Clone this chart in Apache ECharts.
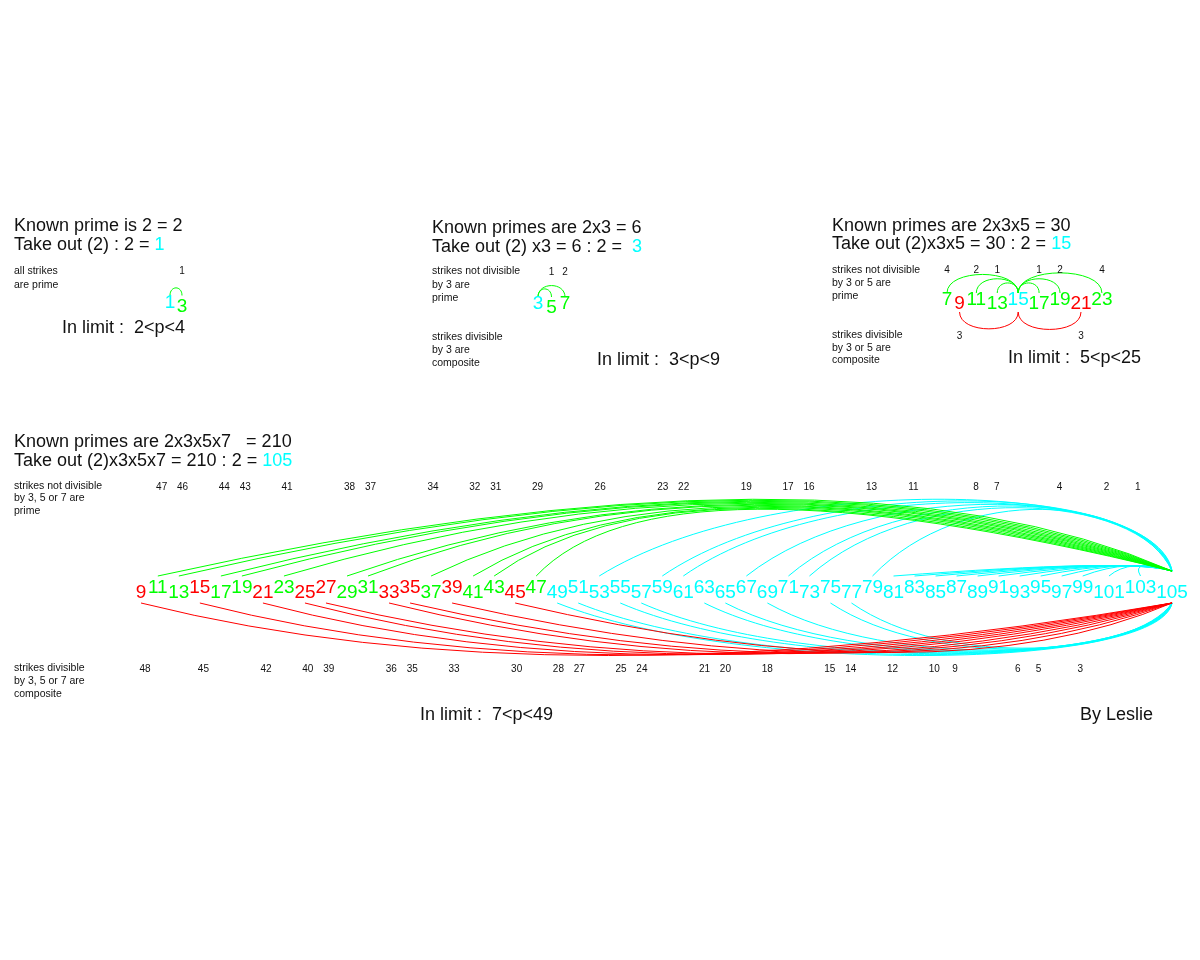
<!DOCTYPE html>
<html><head><meta charset="utf-8">
<script src="https://cdn.jsdelivr.net/npm/echarts@6/dist/echarts.min.js"></script>
<style>html,body{margin:0;padding:0;background:#fff}#c{width:1200px;height:960px}</style>
</head><body><div id="c"></div>
<script>
const FF = '"Liberation Sans", Arial, Helvetica, sans-serif';
const GREEN = '#00ff00', RED = '#ff0000', CYAN = '#00ffff', INK = '#111111';

// ---------- Diagram 1 : 2 ----------
const d1Numbers = [1, 3];
const d1Center = 1;
const d1UpperArcs = [3];
const d1LowerArcs = [];
const d1TopStrikes = [[3, 1]];          // [number under the label, strike label]
const d1BottomStrikes = [];

// ---------- Diagram 2 : 2x3 ----------
const d2Numbers = [3, 5, 7];
const d2Center = 3;
const d2UpperArcs = [5, 7];
const d2LowerArcs = [];
const d2TopStrikes = [[5, 1], [7, 2]];
const d2BottomStrikes = [];

// ---------- Diagram 3 : 2x3x5 ----------
const d3Numbers = [7, 9, 11, 13, 15, 17, 19, 21, 23];
const d3Center = 15;
const d3UpperArcs = [7, 11, 13, 17, 19, 23];
const d3LowerArcs = [9, 21];
const d3TopStrikes = [[7, 4], [11, 2], [13, 1], [17, 1], [19, 2], [23, 4]];
const d3BottomStrikes = [[9, 3], [21, 3]];

// ---------- Diagram 4 : 2x3x5x7 ----------
const bigNumbers = [9, 11, 13, 15, 17, 19, 21, 23, 25, 27, 29, 31, 33, 35, 37, 39, 41, 43, 45, 47,
  49, 51, 53, 55, 57, 59, 61, 63, 65, 67, 69, 71, 73, 75, 77, 79, 81, 83, 85, 87, 89, 91, 93, 95,
  97, 99, 101, 103, 105];
const bigCenter = 105;
const bigGreenUpper = [11, 13, 17, 19, 23, 29, 31, 37, 41, 43, 47];
const bigRedLower = [9, 15, 21, 25, 27, 33, 35, 39, 45];
const bigCyanUpper = [53, 59, 61, 67, 71, 73, 79];
const bigCyanLower = [49, 51, 55, 57, 63, 65, 69, 75, 77];
const bigCyanShort = [81, 83, 85, 87, 89, 91, 93, 95, 97, 99, 101, 103];
const bigTopStrikes = [47, 46, 44, 43, 41, 38, 37, 34, 32, 31, 29, 26, 23, 22, 19, 17, 16, 13, 11, 8, 7, 4, 2, 1];
const bigBottomStrikes = [48, 45, 42, 40, 39, 36, 35, 33, 30, 28, 27, 25, 24, 21, 20, 18, 15, 14, 12, 10, 9, 6, 5, 3];

// ---------- layout helpers ----------
function unitWidth(n) { const s = String(n); return s.length === 1 ? 1.2 : s.length; }
function layoutUnits(nums) {
  const pos = {}; let acc = 0;
  nums.forEach(n => { const w = unitWidth(n); pos[n] = acc + w / 2; acc += w; });
  return { pos, total: acc };
}

const small = [
  { numbers: d1Numbers, center: d1Center, upper: d1UpperArcs, lower: d1LowerArcs, top: d1TopStrikes, bottom: d1BottomStrikes,
    left: 164, unitPx: 10, rowY: 304.5, topY: 33.5, botY: -34 },
  { numbers: d2Numbers, center: d2Center, upper: d2UpperArcs, lower: d2LowerArcs, top: d2TopStrikes, bottom: d2BottomStrikes,
    left: 531.25, unitPx: 11.25, rowY: 306, topY: 34, botY: -34 },
  { numbers: d3Numbers, center: d3Center, upper: d3UpperArcs, lower: d3LowerArcs, top: d3TopStrikes, bottom: d3BottomStrikes,
    left: 940.7, unitPx: 10.47, rowY: 302, topY: 32, botY: -34 }
];

const grids = [], xAxes = [], yAxes = [], series = [];
function addGrid(left, width, rowY, total) {
  const i = grids.length;
  grids.push({ left: left, width: width, top: rowY - 200, height: 400, containLabel: false });
  xAxes.push({ type: 'value', gridIndex: i, min: 0, max: total, show: false });
  yAxes.push({ type: 'value', gridIndex: i, min: -200, max: 200, show: false });
  return i;
}

function textEl(x, y, text, color, size) {
  return { type: 'text', x: x, y: y, silent: true,
    style: { text: text, fill: color, font: size + 'px ' + FF, align: 'center', verticalAlign: 'middle',
      textAlign: 'center', textVerticalAlign: 'middle' } };
}

// small diagrams
small.forEach(d => {
  const L = layoutUnits(d.numbers);
  const gi = addGrid(d.left, L.total * d.unitPx, d.rowY, L.total);
  const colorOf = n => n === d.center ? CYAN : (d.upper.includes(n) ? GREEN : (d.lower.includes(n) ? RED : CYAN));
  const arcData = d.upper.map(n => [L.pos[n], L.pos[d.center], 1])
    .concat(d.lower.map(n => [L.pos[n], L.pos[d.center], -1]));
  series.push({ type: 'custom', xAxisIndex: gi, yAxisIndex: gi, clip: false, silent: true, data: arcData,
    renderItem: (params, api) => {
      const side = api.value(2);
      const base = side > 0 ? 9 : -10;
      const p0 = api.coord([api.value(0), base]);
      const p2 = api.coord([api.value(1), base]);
      const h = 2.2 * Math.sqrt(Math.abs(p2[0] - p0[0])) * (4 / 3) * (side > 0 ? -1 : 1);
      return { type: 'bezierCurve',
        shape: { x1: p0[0], y1: p0[1], x2: p2[0], y2: p2[1], cpx1: p0[0], cpy1: p0[1] + h, cpx2: p2[0], cpy2: p2[1] + h },
        style: { stroke: side > 0 ? GREEN : RED, fill: null, lineWidth: 1 } };
    } });
  series.push({ type: 'custom', xAxisIndex: gi, yAxisIndex: gi, clip: false, silent: true,
    data: d.numbers.map((n, i) => [L.pos[n], 0, n, i]),
    renderItem: (params, api) => {
      const p = api.coord([api.value(0), 0]);
      const idx = api.value(3);
      const n = api.value(2);
      return textEl(p[0], p[1] + (idx % 2 ? 1.8 : -1.8), String(n), colorOf(n), 19);
    } });
  const sData = d.top.map(s => [L.pos[s[0]], d.topY, s[1]]).concat(d.bottom.map(s => [L.pos[s[0]], d.botY, s[1]]));
  series.push({ type: 'custom', xAxisIndex: gi, yAxisIndex: gi, clip: false, silent: true, data: sData,
    renderItem: (params, api) => {
      const p = api.coord([api.value(0), api.value(1)]);
      return textEl(p[0], p[1], String(api.value(2)), INK, 10);
    } });
});

// big diagram
(function () {
  const L = layoutUnits(bigNumbers);
  const unitPx = 10.51, rowY = 590;
  const gi = addGrid(134.7, L.total * unitPx, rowY, L.total);
  const uEnd = L.pos[bigCenter];
  const colorOf = n => bigGreenUpper.includes(n) ? GREEN : (bigRedLower.includes(n) ? RED : CYAN);
  const withF = (list, kind) => list.map((n, i) => [L.pos[n], uEnd, kind, list.length > 1 ? i / (list.length - 1) : 0]);
  const arcs = []
    .concat(withF(bigCyanLower, 3))
    .concat(withF(bigCyanUpper, 2))
    .concat(withF(bigCyanShort, 4))
    .concat(withF(bigRedLower, 1))
    .concat(withF(bigGreenUpper, 0));
  const lerp = (a, b, f) => a + (b - a) * f;
  series.push({ type: 'custom', xAxisIndex: gi, yAxisIndex: gi, clip: false, silent: true, data: arcs,
    renderItem: (params, api) => {
      const u0 = api.value(0), u1 = api.value(1), kind = api.value(2), f = api.value(3);
      let p0, p2, c1, c2 = null, color;
      if (kind === 0) {
        p0 = api.coord([u0, 14]); p2 = api.coord([u1, 19]);
        c1 = api.coord([lerp(67.1, 50, f), lerp(165, 145, f)]); color = GREEN;
      } else if (kind === 1) {
        p0 = api.coord([u0, -13]); p2 = api.coord([u1, -13]);
        c1 = api.coord([lerp(40.5, 76.6, f), lerp(-118, -112, f)]); color = RED;
      } else if (kind === 2) {
        p0 = api.coord([u0, 14]); p2 = api.coord([u1, 19]);
        c1 = api.coord([u0 + 0.3 * (u1 - u0), lerp(121, 108, f)]);
        c2 = api.coord([u1 - lerp(1.5, 3.5, f), lerp(110, 96, f)]); color = CYAN;
      } else if (kind === 3) {
        p0 = api.coord([u0, -13]); p2 = api.coord([u1, -13]);
        c1 = api.coord([u0 + 0.3 * (u1 - u0), lerp(-86, -80, f)]);
        c2 = api.coord([u1 - lerp(1.2, 3.5, f), lerp(-80, -66, f)]); color = CYAN;
      } else {
        p0 = api.coord([u0, 14]); p2 = api.coord([u1, 19]);
        c1 = api.coord([u1 - 4, 32]); color = CYAN;
      }
      const shape = { x1: p0[0], y1: p0[1], x2: p2[0], y2: p2[1], cpx1: c1[0], cpy1: c1[1] };
      if (c2) { shape.cpx2 = c2[0]; shape.cpy2 = c2[1]; }
      return { type: 'bezierCurve', shape: shape, style: { stroke: color, fill: null, lineWidth: 1 } };
    } });
  series.push({ type: 'custom', xAxisIndex: gi, yAxisIndex: gi, clip: false, silent: true,
    data: bigNumbers.map((n, i) => [L.pos[n], 0, n, i]),
    renderItem: (params, api) => {
      const p = api.coord([api.value(0), 0]);
      const idx = api.value(3), n = api.value(2);
      return textEl(p[0], p[1] + (idx % 2 ? -2.5 : 2.5), String(n), colorOf(n), 19);
    } });
  const sData = bigTopStrikes.map(k => [L.pos[bigCenter - 2 * k], 103, k])
    .concat(bigBottomStrikes.map(k => [L.pos[bigCenter - 2 * k], -79, k]));
  series.push({ type: 'custom', xAxisIndex: gi, yAxisIndex: gi, clip: false, silent: true, data: sData,
    renderItem: (params, api) => {
      const u = api.value(0);
      const p = api.coord([u, api.value(1)]);
      // strike labels sit on a slightly narrower row than the numbers
      const shift = 4 - 7 * (u / L.total);
      return textEl(p[0] + shift, p[1], String(api.value(2)), INK, 10);
    } });
})();

// static texts
function T(x, y, text, size, extra) {
  const st = { text: text, fill: INK, font: size + 'px ' + FF, verticalAlign: 'middle', textVerticalAlign: 'middle', align: 'left', textAlign: 'left' };
  if (extra) st.rich = { c: { fill: CYAN, font: size + 'px ' + FF } };
  return { type: 'text', x: x, y: y, silent: true, style: st };
}
const S = 10.5;
const graphics = [
  T(14, 226, 'Known prime is 2 = 2', 18), T(14, 245, 'Take out (2) : 2 = {c|1}', 18, true),
  T(14, 271, 'all strikes', S), T(14, 285, 'are prime', S),
  T(62, 328, 'In limit :  2<p<4', 18),

  T(432, 228, 'Known primes are 2x3 = 6', 18), T(432, 247, 'Take out (2) x3 = 6 : 2 =  {c|3}', 18, true),
  T(432, 271, 'strikes not divisible', S), T(432, 285, 'by 3 are', S), T(432, 298, 'prime', S),
  T(432, 337, 'strikes divisible', S), T(432, 350, 'by 3 are', S), T(432, 363, 'composite', S),
  T(597, 360, 'In limit :  3<p<9', 18),

  T(832, 226, 'Known primes are 2x3x5 = 30', 18), T(832, 244, 'Take out (2)x3x5 = 30 : 2 = {c|15}', 18, true),
  T(832, 270, 'strikes not divisible', S), T(832, 283, 'by 3 or 5 are', S), T(832, 296, 'prime', S),
  T(832, 335, 'strikes divisible', S), T(832, 348, 'by 3 or 5 are', S), T(832, 360, 'composite', S),
  T(1008, 358, 'In limit :  5<p<25', 18),

  T(14, 442, 'Known primes are 2x3x5x7   = 210', 18), T(14, 461, 'Take out (2)x3x5x7 = 210 : 2 = {c|105}', 18, true),
  T(14, 486, 'strikes not divisible', S), T(14, 498, 'by 3, 5 or 7 are', S), T(14, 511, 'prime', S),
  T(14, 668, 'strikes divisible', S), T(14, 681, 'by 3, 5 or 7 are', S), T(14, 694, 'composite', S),
  T(420, 715, 'In limit :  7<p<49', 18),
  T(1080, 715, 'By Leslie', 18)
];

const chart = echarts.init(document.getElementById('c'), null, { renderer: 'canvas' });
chart.setOption({
  backgroundColor: '#ffffff',
  animation: false,
  grid: grids, xAxis: xAxes, yAxis: yAxes,
  series: series,
  graphic: graphics
});
</script></body></html>
